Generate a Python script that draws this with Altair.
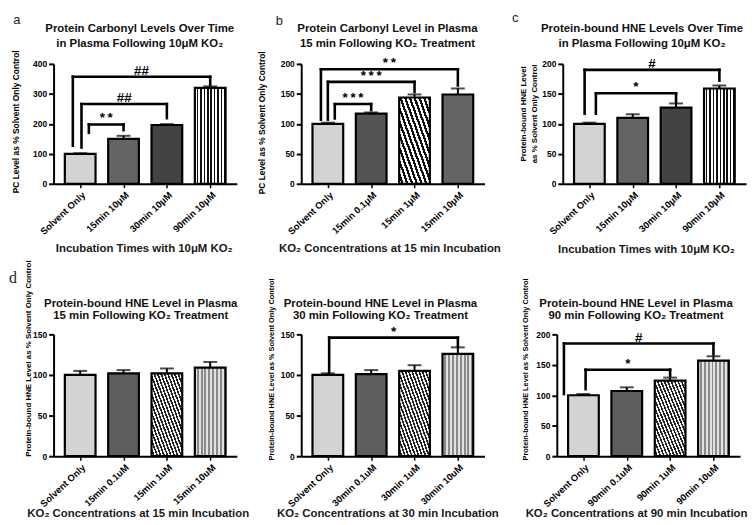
import json
import altair as alt
import pandas as pd

FONT = "Liberation Sans"

# ---------------- data ----------------
a_labels = ["Solvent Only", "15min 10μM", "30min 10μM", "90min 10μM"]
a_means = [100, 150, 196, 320]
a_errs = [2, 10, 3, 5]

b_labels = ["Solvent Only", "15min 0.1μM", "15min 1μM", "15min 10μM"]
b_means = [100, 117, 144, 149]
b_errs = [2, 2, 5, 10]

c_labels = ["Solvent Only", "15min 10μM", "30min 10μM", "90min 10μM"]
c_means = [100, 110, 127, 159]
c_errs = [2, 6, 7, 5]

d15_labels = ["Solvent Only", "15min 0.1uM", "15min 1uM", "15min 10uM"]
d15_means = [100, 102, 102, 109]
d15_errs = [5, 4, 6, 7]

d30_labels = ["Solvent Only", "30min 0.1uM", "30min 1uM", "30min 10uM"]
d30_means = [100, 101, 105, 126]
d30_errs = [2, 5, 7, 8]

d90_labels = ["Solvent Only", "90min 0.1uM", "90min 1uM", "90min 10uM"]
d90_means = [100, 107, 124, 157]
d90_errs = [2, 6, 5, 7]

# significance brackets: (left bar, right bar, bracket level, left drop end, right drop end, mark)
a_sig = [(0, 3, 357, 127, 331, "##"), (0, 2, 266, 121, 219, "##"), (0, 1, 198, 170, 179, "**")]
b_sig = [(0, 3, 191, 107, 164, "**"), (0, 2, 170, 107, 153, "***"), (0, 1, 133, 109, 123, "***")]
c_sig = [(0, 3, 190, 117, 172, "#"), (0, 2, 151, 117, 136, "*")]
d15_sig = []
d30_sig = [(0, 3, 146, 102, 135, "*")]
d90_sig = [(0, 3, 185, 102, 167, "#"), (0, 2, 142, 110, 132, "*")]

# where each bracket leaves the control bar (shift from bar centre, in bar steps)
a_shift = [-0.17, 0.03, 0.2]
b_shift = [-0.16, 0.0, 0.16]
c_shift = [-0.11, 0.15]
d30_shift = [0.03]
d90_shift = [-0.45, 0.05]


# ---------------- fill styles (approximations of the hatch patterns) ----------------
def stripes(n, dark, light, frac, diagonal=False):
    stops = []
    for k in range(n):
        a = round(k / n, 4)
        b = round((k + frac) / n, 4)
        c = round((k + 1) / n, 4)
        stops += [{"offset": a, "color": light}, {"offset": b, "color": light},
                  {"offset": b, "color": dark}, {"offset": c, "color": dark}]
    if diagonal:
        return {"gradient": "linear", "x1": 0, "y1": 1, "x2": 1, "y2": 0, "stops": stops}
    return {"gradient": "linear", "x1": 0, "y1": 0, "x2": 1, "y2": 0, "stops": stops}


SOLVENT = "#d3d3d3"
POLKA = "#646464"
BRICK = "#434343"
CHECK = "#545454"
VSTRIPE = stripes(9, "#111111", "#ffffff", 0.55)
DIAG = stripes(13, "#111111", "#ffffff", 0.5, diagonal=True)
DIAG_FINE = stripes(18, "#222222", "#f4f4f4", 0.5, diagonal=True)
VSTRIPE_GRAY = stripes(8, "#8a8a8a", "#e2e2e2", 0.5)
CHECK_D = "#5e5e5e"

PW = 185  # panel plot width


def mark_text_of(mark):
    return "\u2009".join(mark) if "*" in mark else mark


def panel(labels, means, errs, fills, sig, shifts, ymax, ystep, height, ytitle, ytfont,
          ytx, yty, xtitle, xtx, xty, title, tcx, ty1, tlh, letter=None, lx=0, ly=0,
          lfont=FONT, lsize=13):
    n = len(labels)
    df = pd.DataFrame({"i": list(range(n)), "label": labels, "mean": means, "err": errs})
    df["top"] = df["mean"] + df["err"]

    xs = alt.Scale(domain=[-0.5, n - 0.5], nice=False, zero=False)
    ys = alt.Scale(domain=[0, ymax], nice=False)
    xaxis = alt.Axis(
        values=list(range(n)),
        labelExpr=json.dumps(labels, ensure_ascii=False) + "[datum.value]",
        labelAngle=-43, labelAlign="right", labelBaseline="top", labelOverlap=False,
        labelFont=FONT, labelFontSize=9.5, labelFontWeight="bold", labelColor="black",
        labelPadding=2, tickSize=4, tickWidth=1.5, tickColor="black",
        domainColor="black", domainWidth=2, grid=False,
        title=xtitle, titleFont=FONT, titleFontSize=11.5, titleFontWeight="bold",
        titleColor="#1a1a1a", titleX=xtx, titleY=xty, titleBaseline="middle",
        titleAlign="center",
    )
    yaxis = alt.Axis(
        values=list(range(0, ymax + 1, ystep)), labelOverlap=False,
        labelFont=FONT, labelFontSize=8.5, labelFontWeight="bold", labelColor="black",
        labelPadding=2, tickSize=5, tickWidth=2, tickColor="black",
        domainColor="black", domainWidth=2, grid=False,
        title=ytitle, titleFont=FONT, titleFontSize=ytfont, titleFontWeight="bold",
        titleColor="black", titleX=ytx, titleY=yty, titleBaseline="middle",
        titleAngle=270, titleAlign="center", titleLineHeight=ytfont + 4,
    )

    layers = []
    for k in range(n):
        layers.append(
            alt.Chart(df.iloc[[k]]).mark_bar(fill=fills[k], stroke="black", strokeWidth=2.2, width=31)
            .encode(x=alt.X("i:Q", scale=xs, axis=xaxis), y=alt.Y("mean:Q", scale=ys, axis=yaxis))
        )
    layers.append(
        alt.Chart(df).mark_rule(color="black", strokeWidth=2)
        .encode(x=alt.X("i:Q", scale=xs, axis=xaxis), y=alt.Y("mean:Q", scale=ys, axis=yaxis), y2="top:Q")
    )
    layers.append(
        alt.Chart(df).mark_tick(color="black", orient="horizontal", size=14, thickness=2)
        .encode(x=alt.X("i:Q", scale=xs, axis=xaxis), y=alt.Y("top:Q", scale=ys, axis=yaxis))
    )

    if sig:
        segs, labs = [], []
        for (l, r, lev, lb, rb, mark), sh in zip(sig, shifts):
            xl = l + sh
            segs += [dict(x=xl, x2=xl, y=lb, y2=lev), dict(x=xl, x2=r, y=lev, y2=lev),
                     dict(x=r, x2=r, y=rb, y2=lev)]
            labs.append(dict(x=(xl + r) / 2, y=lev, t=mark_text_of(mark)))
        layers.append(
            alt.Chart(pd.DataFrame(segs)).mark_rule(color="black", strokeWidth=2.6, strokeCap="square")
            .encode(x=alt.X("x:Q", scale=xs, axis=xaxis), x2="x2:Q",
                    y=alt.Y("y:Q", scale=ys, axis=yaxis), y2="y2:Q")
        )
        layers.append(
            alt.Chart(pd.DataFrame(labs)).mark_text(font=FONT, fontSize=13.5, fontWeight="bold",
                                                    baseline="alphabetic", dy=-2, color="black")
            .encode(x=alt.X("x:Q", scale=xs, axis=xaxis), y=alt.Y("y:Q", scale=ys, axis=yaxis), text="t:N")
        )

    layers.append(
        alt.Chart(pd.DataFrame({"t": ["\n".join(title)]}))
        .mark_text(font=FONT, fontSize=11.5, fontWeight="bold", lineBreak="\n", lineHeight=tlh,
                   align="center", baseline="alphabetic", color="#111111")
        .encode(text="t:N", x=alt.value(tcx), y=alt.value(ty1))
    )
    if letter:
        layers.append(
            alt.Chart(pd.DataFrame({"t": [letter]}))
            .mark_text(font=lfont, fontSize=lsize, align="center", baseline="middle", color="#222222")
            .encode(text="t:N", x=alt.value(lx), y=alt.value(ly))
        )
    return alt.layer(*layers).properties(width=PW, height=height)


TOP_H = 121
BOT_H = 123
PC_TITLE = "PC Level as % Solvent Only Control"
HNE_TITLE = "Protein-bound HNE Level as % Solvent Only Control"

pa = panel(a_labels, a_means, a_errs, [SOLVENT, POLKA, BRICK, VSTRIPE], a_sig, a_shift,
           400, 100, TOP_H, PC_TITLE, 8.5, -38, 58,
           "Incubation Times with 10μM KO₂", 91, 65,
           ["Protein Carbonyl Levels Over Time", "in Plasma Following 10μM KO₂"], 87, -32, 14.5,
           "a", -37, -44)
pb = panel(b_labels, b_means, b_errs, [SOLVENT, CHECK, DIAG, POLKA], b_sig, b_shift,
           200, 50, TOP_H, PC_TITLE, 8.5, -40, 59,
           "KO₂ Concentrations at 15 min Incubation", 89, 65,
           ["Protein Carbonyl Level in Plasma", "15 min Following KO₂ Treatment"], 87, -32, 14.5,
           "b", -22, -43)
pc = panel(c_labels, c_means, c_errs, [SOLVENT, POLKA, BRICK, VSTRIPE], c_sig, c_shift,
           200, 50, TOP_H, ["Protein-bound HNE Level", "as % Solvent Only Control"], 8, -40, 50,
           "Incubation Times with 10μM KO₂", 84, 66,
           ["Protein-bound HNE Levels Over Time", "in Plasma Following 10μM KO₂"], 80, -32, 14.5,
           "c", -48, -46)
pd15 = panel(d15_labels, d15_means, d15_errs, [SOLVENT, CHECK_D, DIAG_FINE, VSTRIPE_GRAY], d15_sig, [],
             150, 50, BOT_H, HNE_TITLE, 8, -25, 24,
             "KO₂ Concentrations at 15 min Incubation", 85, 58,
             ["Protein-bound HNE Level in Plasma", "15 min Following KO₂ Treatment"], 88, -28, 13,
             "d", -41, -57, "Liberation Serif", 16)
pd30 = panel(d30_labels, d30_means, d30_errs, [SOLVENT, CHECK_D, DIAG_FINE, VSTRIPE_GRAY], d30_sig, d30_shift,
             150, 50, BOT_H, HNE_TITLE, 7.4, -30, 35,
             "KO₂ Concentrations at 30 min Incubation", 87, 58,
             ["Protein-bound HNE Level in Plasma", "30 min Following KO₂ Treatment"], 80, -28, 13)
pd90 = panel(d90_labels, d90_means, d90_errs, [SOLVENT, CHECK_D, DIAG_FINE, VSTRIPE_GRAY], d90_sig, d90_shift,
             200, 50, BOT_H, HNE_TITLE, 7.4, -32, 35,
             "KO₂ Concentrations at 90 min Incubation", 80, 58,
             ["Protein-bound HNE Level in Plasma", "90 min Following KO₂ Treatment"], 80, -28, 13)

row1 = alt.hconcat(pa, alt.hconcat(pb, pc, spacing=79, bounds="flush"), spacing=65, bounds="flush")
row2 = alt.hconcat(pd15, alt.hconcat(pd30, pd90, spacing=73, bounds="flush"), spacing=65, bounds="flush")

# nested rows report no height under "flush", so the spacing runs from the top of row 1
chart = (
    alt.vconcat(row1, row2, spacing=TOP_H + 152, bounds="flush")
    .properties(padding={"left": 1, "top": 2, "right": 0, "bottom": 0}, background="white")
    .configure_view(stroke=None)
)

chart.save("out.html", embed_options={"renderer": "svg", "actions": False})
